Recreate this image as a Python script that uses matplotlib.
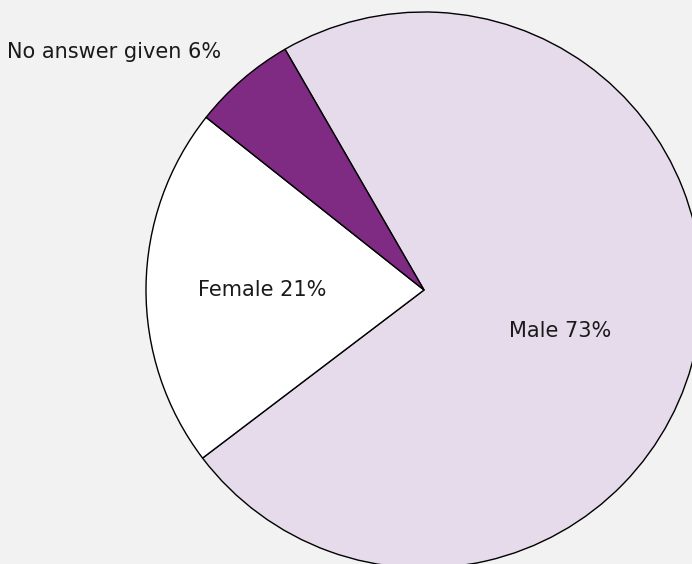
import matplotlib
matplotlib.use("Agg")
import matplotlib.pyplot as plt

categories = ["Male", "Female", "No answer given"]
shares = [73, 21, 6]
colors = ["#e6dbea", "#ffffff", "#7f2a83"]

fig = plt.figure(figsize=(6.92, 5.64), dpi=100)
fig.patch.set_facecolor("#f2f2f2")

W, H = 692, 564
cx, cy, r = 424, 564 - 290, 278
ax = fig.add_axes([(cx - r) / W, (cy - r) / H, 2 * r / W, 2 * r / H])
ax.set_facecolor("none")

wedges, _ = ax.pie(
    shares,
    colors=colors,
    startangle=120,
    counterclock=False,
    radius=1.0,
    wedgeprops=dict(edgecolor="black", linewidth=1.0),
)
for w in wedges:
    w.set_clip_on(False)

ax.set_xlim(-1, 1)
ax.set_ylim(-1, 1)
ax.set_aspect("equal")
ax.axis("off")

# label anchor (baseline) positions in pie-radius units
label_pos = {
    "Male": (0.489, -0.169, "center"),
    "Female": (-0.583, -0.0205, "center"),
    "No answer given": (-1.5, 0.833, "left"),
}
for name, val in zip(categories, shares):
    x, y, ha = label_pos[name]
    ax.text(x, y, f"{name} {val}%", ha=ha, va="baseline",
            fontsize=15, color="#1a1a1a", family="DejaVu Sans")

fig.savefig("out.png", dpi=100, facecolor=fig.get_facecolor())
